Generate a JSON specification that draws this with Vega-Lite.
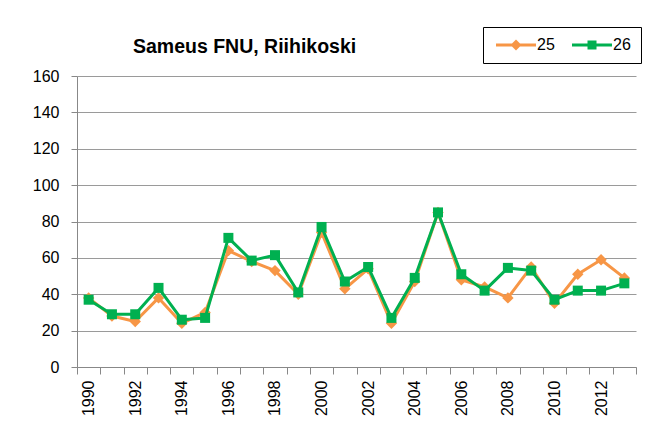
{
  "$schema": "https://vega.github.io/schema/vega-lite/v6.json",
  "width": 559,
  "height": 291,
  "autosize": {"type": "none"},
  "padding": {"left": 77, "top": 76, "right": 14, "bottom": 61},
  "background": "white",
  "title": {"text": "Sameus FNU, Riihikoski", "anchor": "start", "frame": "group", "dx": 56, "dy": 41, "offset": 10, "fontSize": 19.5, "font": "Liberation Sans", "fontWeight": "bold", "color": "#000"},
  "config": {"view": {"stroke": null}},
  "data": {"values": [
    {"year": 1990, "series": "25", "value": 38}, {"year": 1991, "series": "25", "value": 28}, {"year": 1992, "series": "25", "value": 25}, {"year": 1993, "series": "25", "value": 38}, {"year": 1994, "series": "25", "value": 24}, {"year": 1995, "series": "25", "value": 30}, {"year": 1996, "series": "25", "value": 64}, {"year": 1997, "series": "25", "value": 58}, {"year": 1998, "series": "25", "value": 53}, {"year": 1999, "series": "25", "value": 40}, {"year": 2000, "series": "25", "value": 74}, {"year": 2001, "series": "25", "value": 43}, {"year": 2002, "series": "25", "value": 54}, {"year": 2003, "series": "25", "value": 24}, {"year": 2004, "series": "25", "value": 47}, {"year": 2005, "series": "25", "value": 85}, {"year": 2006, "series": "25", "value": 48}, {"year": 2007, "series": "25", "value": 44}, {"year": 2008, "series": "25", "value": 38}, {"year": 2009, "series": "25", "value": 55}, {"year": 2010, "series": "25", "value": 35}, {"year": 2011, "series": "25", "value": 51}, {"year": 2012, "series": "25", "value": 59}, {"year": 2013, "series": "25", "value": 49},
    {"year": 1990, "series": "26", "value": 37}, {"year": 1991, "series": "26", "value": 29}, {"year": 1992, "series": "26", "value": 29}, {"year": 1993, "series": "26", "value": 43.5}, {"year": 1994, "series": "26", "value": 26}, {"year": 1995, "series": "26", "value": 27}, {"year": 1996, "series": "26", "value": 71}, {"year": 1997, "series": "26", "value": 58.5}, {"year": 1998, "series": "26", "value": 61.5}, {"year": 1999, "series": "26", "value": 41}, {"year": 2000, "series": "26", "value": 77}, {"year": 2001, "series": "26", "value": 47}, {"year": 2002, "series": "26", "value": 55}, {"year": 2003, "series": "26", "value": 27}, {"year": 2004, "series": "26", "value": 49}, {"year": 2005, "series": "26", "value": 85}, {"year": 2006, "series": "26", "value": 51}, {"year": 2007, "series": "26", "value": 42}, {"year": 2008, "series": "26", "value": 54.5}, {"year": 2009, "series": "26", "value": 53}, {"year": 2010, "series": "26", "value": 37}, {"year": 2011, "series": "26", "value": 42}, {"year": 2012, "series": "26", "value": 42}, {"year": 2013, "series": "26", "value": 46}
  ]},
  "encoding": {
    "x": {"field": "year", "type": "ordinal", "bandPosition": 0.5,
      "scale": {"type": "band", "paddingInner": 0, "paddingOuter": 0},
      "axis": {"title": null, "tickBand": "extent", "labelAngle": -90, "labelAlign": "right", "labelBaseline": "middle",
        "labelExpr": "datum.value % 2 == 0 ? datum.label : ''", "labelOverlap": false,
        "labelFontSize": 16, "labelFont": "Liberation Sans", "labelColor": "#000",
        "tickSize": 7, "tickColor": "#888", "domainColor": "#888", "labelPadding": 6, "grid": false}},
    "y": {"field": "value", "type": "quantitative",
      "scale": {"domain": [0, 160], "nice": false},
      "axis": {"title": null, "values": [0, 20, 40, 60, 80, 100, 120, 140, 160],
        "labelFontSize": 16, "labelFont": "Liberation Sans", "labelColor": "#000",
        "tickSize": 6, "labelPadding": 12, "tickColor": "#888", "domainColor": "#888",
        "gridColor": "#9a9a9a", "gridWidth": 1}}
  },
  "layer": [
    {"transform": [{"filter": "datum.series == '25'"}], "mark": {"type": "line", "color": "#F79646", "strokeWidth": 3, "strokeJoin": "round"}},
    {"transform": [{"filter": "datum.series == '25'"}], "mark": {"type": "point", "shape": "diamond", "filled": true, "color": "#F79646", "size": 130, "opacity": 1}},
    {"transform": [{"filter": "datum.series == '26'"}], "mark": {"type": "line", "color": "#00B050", "strokeWidth": 3, "strokeJoin": "round"}},
    {"transform": [{"filter": "datum.series == '26'"}], "mark": {"type": "point", "shape": "square", "filled": true, "color": "#00B050", "size": 100, "opacity": 1}},
    {"transform": [{"filter": "false"}], "mark": {"type": "point", "filled": true, "opacity": 1},
      "encoding": {
        "color": {"field": "series", "type": "nominal", "scale": {"domain": ["25", "26"], "range": ["#F79646", "#00B050"]},
          "legend": {"title": null, "orient": "none", "legendX": 406, "legendY": -49, "direction": "horizontal", "strokeColor": "#000", "padding": 10, "fillColor": "#fff", "labelFontSize": 16, "labelFont": "Liberation Sans", "labelColor": "#000", "symbolSize": 100, "symbolOffset": 15, "labelOffset": 13, "columnPadding": 14, "symbolStrokeWidth": 0}},
        "shape": {"field": "series", "type": "nominal", "scale": {"domain": ["25", "26"], "range": ["M-4,-0.3H-0.8L0,-1.1L0.8,-0.3H4V0.3H0.8L0,1.1L-0.8,0.3H-4Z", "M-4,-0.3H-0.9V-0.9H0.9V-0.3H4V0.3H0.9V0.9H-0.9V0.3H-4Z"]},
          "legend": {"title": null, "orient": "none", "legendX": 406, "legendY": -49, "direction": "horizontal", "strokeColor": "#000", "padding": 10, "fillColor": "#fff", "labelFontSize": 16, "labelFont": "Liberation Sans", "labelColor": "#000", "symbolSize": 100, "symbolOffset": 15, "labelOffset": 13, "columnPadding": 14, "symbolStrokeWidth": 0}}
      }}
  ]
}
